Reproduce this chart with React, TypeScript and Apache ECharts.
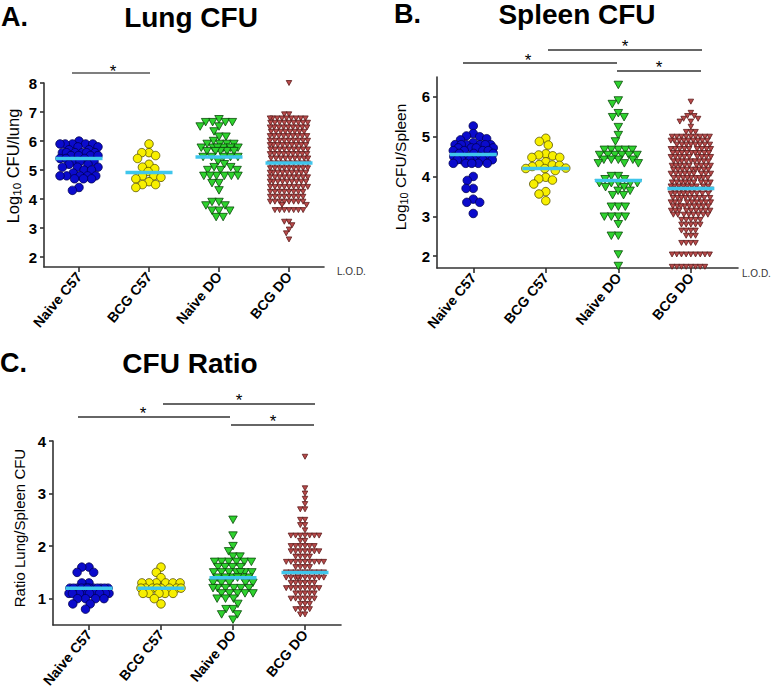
import React, { useEffect, useRef } from 'react';
import * as echarts from 'echarts';

// ---------- data (value, count) rows ----------
const categories = ['Naive C57', 'BCG C57', 'Naive DO', 'BCG DO'];

const lungNaiveC57 = [[6.0,1],[5.9,5],[5.8,2],[5.7,2],[5.6,6],[5.5,4],[5.4,3],[5.3,3],[5.2,2],[5.1,3],[5.0,2],[4.9,1],[4.8,5],[4.7,3],[4.4,1],[4.3,1]];
const lungBcgC57 = [[5.9,1],[5.6,2],[5.5,1],[5.4,1],[5.2,1],[5.1,1],[5.05,1],[4.95,1],[4.8,2],[4.75,1],[4.7,1],[4.6,1],[4.5,2],[4.4,1]];
const lungNaiveDO = [[6.75,1],[6.65,4],[6.5,2],[6.33,1],[6.15,2],[6.0,1],[5.9,4],[5.77,6],[5.65,5],[5.45,5],[5.3,1],[5.2,1],[5.1,2],[5.0,3],[4.8,6],[4.55,2],[4.3,1],[3.9,2],[3.78,2],[3.6,3],[3.38,2]];
const lungBcgDO = [[8.0,1],[6.92,2],[6.78,9],[6.63,9],[6.47,9],[6.32,8],[6.17,9],[6.01,9],[5.86,9],[5.71,9],[5.55,9],[5.4,9],[5.23,9],[5.06,9],[4.91,9],[4.75,9],[4.6,9],[4.42,9],[4.25,8],[4.08,8],[3.91,8],[3.8,2],[3.62,7],[3.22,2],[3.1,1],[2.95,1],[2.82,1],[2.61,1]];
const lungMeans = [5.4, 4.92, 5.45, 5.24];

const spleenNaiveC57 = [[5.27,1],[5.08,1],[5.02,1],[5.0,1],[4.95,1],[4.92,1],[4.85,1],[4.8,6],[4.72,4],[4.65,4],[4.58,3],[4.5,4],[4.42,6],[4.33,5],[4.0,1],[3.9,1],[3.7,2],[3.43,1],[3.35,2],[3.07,1]];
const spleenBcgC57 = [[4.96,1],[4.88,1],[4.79,1],[4.57,1],[4.54,1],[4.52,1],[4.48,2],[4.37,1],[4.3,1],[4.29,1],[4.28,1],[4.25,1],[4.21,1],[4.2,2],[4.15,1],[3.98,1],[3.94,1],[3.91,1],[3.81,1],[3.62,1],[3.56,1],[3.39,1]];
const spleenNaiveDO = [[6.3,1],[5.91,1],[5.82,1],[5.59,1],[5.49,2],[5.24,1],[5.04,1],[4.88,1],[4.67,5],[4.54,6],[4.42,4],[4.33,3],[4.01,2],[3.93,2],[3.83,5],[3.73,2],[3.64,2],[3.53,2],[3.24,3],[2.99,4],[2.8,1],[2.51,2],[2.04,1],[1.75,1]];
const spleenBcgDO = [[5.88,1],[5.6,1],[5.52,2],[5.45,2],[5.38,2],[5.25,1],[5.12,3],[5.0,9],[4.9,9],[4.8,8],[4.69,9],[4.59,9],[4.49,9],[4.38,9],[4.27,9],[4.17,9],[4.07,9],[3.96,9],[3.85,9],[3.75,9],[3.67,9],[3.57,9],[3.46,9],[3.35,9],[3.25,9],[3.14,9],[3.04,8],[2.91,5],[2.79,5],[2.64,4],[2.51,3],[2.33,4],[2.04,9],[1.73,8]];
const spleenMeans = [4.55, 4.2, 3.9, 3.7];

const ratioNaiveC57 = [[1.6,2],[1.5,2],[1.3,2],[1.2,12],[1.1,14],[1.0,4],[0.9,2],[0.8,1]];
const ratioBcgC57 = [[1.6,1],[1.5,1],[1.4,1],[1.3,6],[1.2,8],[1.1,5],[1.0,1],[0.9,1]];
const ratioNaiveDO = [[2.5,1],[2.2,1],[2.0,1],[1.9,1],[1.8,2],[1.7,6],[1.6,4],[1.5,7],[1.4,6],[1.3,5],[1.2,6],[1.1,5],[1.0,3],[0.9,1],[0.8,2],[0.7,2],[0.6,1]];
const ratioBcgDO = [[3.7,1],[3.1,1],[3.0,1],[2.9,1],[2.8,1],[2.7,2],[2.5,2],[2.4,2],[2.3,1],[2.2,7],[2.1,2],[2.0,6],[1.9,7],[1.8,4],[1.7,9],[1.6,4],[1.5,9],[1.4,10],[1.3,6],[1.2,8],[1.1,5],[1.0,6],[0.9,3],[0.8,4],[0.7,2]];
const ratioMeans = [1.2, 1.2, 1.4, 1.5];

const yTicksLung = [2, 3, 4, 5, 6, 7, 8];
const yTicksSpleen = [2, 3, 4, 5, 6];
const yTicksRatio = [1, 2, 3, 4];
const catTicks = [0, 1, 2, 3];

// ---------- layout ----------
const FONT = 'Arial, "Liberation Sans", Helvetica, sans-serif';

const panels = [
  { rows: [lungNaiveC57, lungBcgC57, lungNaiveDO, lungBcgDO], means: lungMeans, ticks: yTicksLung,
    grid: { left: 44, top: 83, width: 280, height: 184 }, yMin: 1.66, yMax: 8, xMax: 3.5, maxHalf: 19 },
  { rows: [spleenNaiveC57, spleenBcgC57, spleenNaiveDO, spleenBcgDO], means: spleenMeans, ticks: yTicksSpleen,
    grid: { left: 437, top: 77, width: 301, height: 191 }, yMin: 1.7, yMax: 6.5, xMax: 3.65, maxHalf: 20 },
  { rows: [ratioNaiveC57, ratioBcgC57, ratioNaiveDO, ratioBcgDO], means: ratioMeans, ticks: yTicksRatio,
    grid: { left: 53, top: 441, width: 288, height: 191 }, yMin: 0.5, yMax: 4, xMax: 3.5, maxHalf: 20 },
];

const groupStyles = [
  { symbol: 'circle', size: 8.5, color: '#0b0bcc', border: '#000050', d: 7.2, rotate: 0 },
  { symbol: 'circle', size: 8.5, color: '#f7ef00', border: '#555000', d: 7.2, rotate: 0 },
  { symbol: 'triangle', size: [8.5, 7.5], color: '#2ed22e', border: '#0a4a0a', d: 7, rotate: 180 },
  { symbol: 'triangle', size: [5.5, 5], color: '#b94a4a', border: '#5c1c1c', d: 4.7, rotate: 180 },
];

function expand(rows: number[][]): number[] {
  const out: number[] = [];
  rows.forEach(([v, n]) => { for (let i = 0; i < n; i++) out.push(v); });
  return out;
}

// deterministic beeswarm layout (pixel offsets from category centre)
function swarm(values: number[], pxPerY: number, d: number, maxHalf: number): number[] {
  const pts = values.map((v, i) => ({ v, i, y: v * pxPerY }));
  const order = [...pts].sort((a, b) => b.v - a.v);
  const placed: { x: number; y: number }[] = [];
  const res = new Array(values.length).fill(0);
  for (const p of order) {
    const cands = [0];
    for (const q of placed) {
      const dy = Math.abs(q.y - p.y);
      if (dy < d) { const dx = Math.sqrt(d * d - dy * dy); cands.push(q.x + dx, q.x - dx); }
    }
    cands.sort((a, b) => Math.abs(a) - Math.abs(b) || a - b);
    let chosen: number | null = null;
    for (const c of cands) {
      if (Math.abs(c) > maxHalf + 1e-6) continue;
      let ok = true;
      for (const q of placed) {
        const dx = c - q.x, dy = p.y - q.y;
        if (dx * dx + dy * dy < d * d - 1e-6) { ok = false; break; }
      }
      if (ok) { chosen = c; break; }
    }
    if (chosen === null) {
      let best = 0, bestScore = -1;
      for (let c = -maxHalf; c <= maxHalf + 1e-9; c += 0.5) {
        let m = Infinity;
        for (const q of placed) { const dx = c - q.x, dy = p.y - q.y; m = Math.min(m, dx * dx + dy * dy); }
        if (m > bestScore + 1e-9 || (Math.abs(m - bestScore) < 1e-9 && Math.abs(c) < Math.abs(best))) { bestScore = m; best = c; }
      }
      chosen = best;
    }
    placed.push({ x: chosen, y: p.y });
    res[p.i] = chosen;
  }
  return res;
}

function buildOption() {
  const grids: any[] = [], xAxes: any[] = [], yAxes: any[] = [], series: any[] = [];
  const axisColor = '#333';
  panels.forEach((P, pi) => {
    grids.push({ ...P.grid, containLabel: false });
    const pxPerCat = P.grid.width / (P.xMax + 0.5);
    const pxPerY = P.grid.height / (P.yMax - P.yMin);
    xAxes.push({
      type: 'value', gridIndex: pi, min: -0.5, max: P.xMax,
      axisLine: { show: true, onZero: false, lineStyle: { color: axisColor, width: 1.6 } },
      axisTick: { show: true, customValues: catTicks, length: 5, lineStyle: { color: axisColor, width: 1.6 } },
      axisLabel: { show: true, customValues: catTicks, formatter: (v: number) => categories[Math.round(v)] || '',
        rotate: 50, margin: 7, fontWeight: 'bold', fontSize: 14, color: '#000', fontFamily: FONT },
      splitLine: { show: false },
    });
    yAxes.push({
      type: 'value', gridIndex: pi, min: P.yMin, max: P.yMax,
      axisLine: { show: true, onZero: false, lineStyle: { color: axisColor, width: 1.6 } },
      axisTick: { show: true, customValues: P.ticks, length: 4, lineStyle: { color: axisColor, width: 1.6 } },
      axisLabel: { show: true, customValues: P.ticks, formatter: (v: number) => String(v), margin: 7,
        fontWeight: 'bold', fontSize: 15, color: '#000', fontFamily: FONT },
      splitLine: { show: false },
    });
    P.rows.forEach((rows, gi) => {
      const g = groupStyles[gi];
      const vals = expand(rows);
      const offs = swarm(vals, pxPerY, g.d, P.maxHalf);
      series.push({
        type: 'scatter', xAxisIndex: pi, yAxisIndex: pi, clip: false, silent: true,
        symbol: g.symbol, symbolSize: g.size, symbolRotate: g.rotate,
        itemStyle: { color: g.color, borderColor: g.border, borderWidth: 0.8, opacity: 1 },
        data: vals.map((v, k) => [gi + offs[k] / pxPerCat, v]), z: 2,
      });
      const half = 23.5 / pxPerCat;
      series.push({
        type: 'line', xAxisIndex: pi, yAxisIndex: pi, symbol: 'none', silent: true, clip: false,
        lineStyle: { color: '#3fc6ec', width: 3.5 }, z: 5,
        data: [[gi - half, P.means[gi]], [gi + half, P.means[gi]]],
      });
    });
  });

  const txt = (text: string, x: number, y: number, font: string, align = 'center', fill = '#000', rotation = 0) => ({
    type: 'text', x, y, rotation, silent: true,
    style: { text, font, fill, align, verticalAlign: 'middle' },
  });
  const line = (x1: number, y1: number, x2: number, y2: number, color = '#333') => ({
    type: 'line', silent: true, shape: { x1, y1, x2, y2 }, style: { stroke: color, lineWidth: 1.3 },
  });
  const star = (x: number, y: number) => txt('*', x, y + 3, `17px ${FONT}`);
  const R = Math.PI / 2;
  // vertical "Log10 ..." titles composed of pieces reading upward from y0
  const logName = (rest: string, restEm: number, fs: number, cx: number, cy: number) => {
    const wLog = 1.668 * fs, subFs = fs * 0.7, wSub = 1.112 * subFs, wRest = restEm * fs;
    const y0 = cy + (wLog + wSub + wRest) / 2;
    return [
      txt('Log', cx, y0, `${fs}px ${FONT}`, 'left', '#000', R),
      txt('10', cx + fs * 0.27, y0 - wLog, `${subFs}px ${FONT}`, 'left', '#000', R),
      txt(rest, cx, y0 - wLog - wSub, `${fs}px ${FONT}`, 'left', '#000', R),
    ];
  };
  const titleFont = `bold 28px ${FONT}`;
  const letterFont = `bold 27px ${FONT}`;
  const graphic = [
    txt('A.', 1, 17, letterFont, 'left'),
    txt('Lung CFU', 191, 17, titleFont),
    txt('B.', 394, 14, letterFont, 'left'),
    txt('Spleen CFU', 577, 14, titleFont),
    txt('C.', 0, 363, letterFont, 'left'),
    txt('CFU Ratio', 190, 363, titleFont),
    ...logName(' CFU/lung', 4.501, 16.5, 13, 166),
    ...logName(' CFU/Spleen', 5.724, 15.5, 400, 167),
    txt('Ratio Lung/Spleen CFU', 19, 528, `15px ${FONT}`, 'center', '#000', R),
    txt('L.O.D.', 337, 271, `10px ${FONT}`, 'left', '#333'),
    txt('L.O.D.', 742, 273, `10px ${FONT}`, 'left', '#333'),
    line(72, 73, 150, 73, '#555'), star(113, 68),
    line(463, 63, 617, 63), star(528, 57),
    line(548, 50, 702, 50), star(625, 43),
    line(617, 71, 701, 71), star(659, 64),
    line(78, 417, 230, 417), star(143, 410),
    line(163, 404, 315, 404), star(239, 397),
    line(231, 425, 314, 425), star(273, 418),
  ];

  return { animation: false, backgroundColor: '#fff', grid: grids, xAxis: xAxes, yAxis: yAxes, series, graphic };
}

export default function App() {
  const ref = useRef<HTMLDivElement>(null);
  useEffect(() => {
    if (!ref.current) return;
    const chart = echarts.init(ref.current, undefined, { renderer: 'svg' });
    chart.setOption(buildOption() as any);
    return () => chart.dispose();
  }, []);
  return <div ref={ref} style={{ position: 'fixed', left: 0, top: 0, width: 771, height: 690, background: '#fff' }} />;
}
